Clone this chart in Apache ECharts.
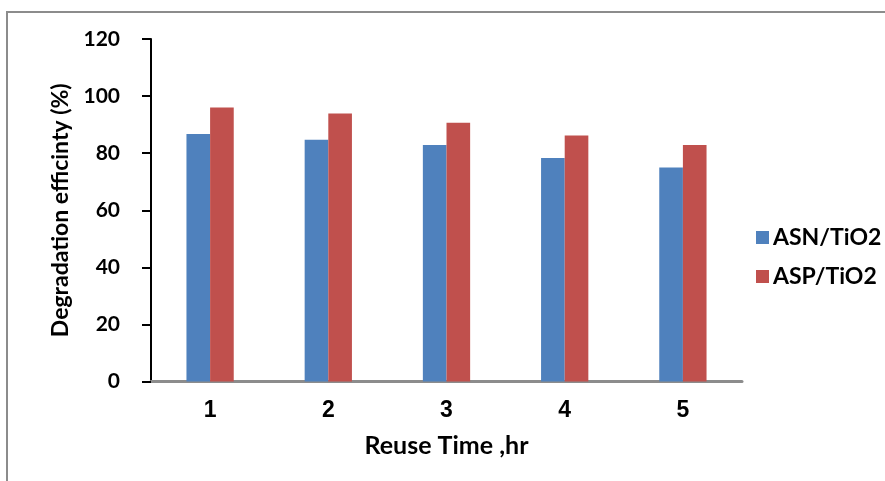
<!DOCTYPE html>
<html>
<head>
<meta charset="utf-8">
<script src="https://cdn.jsdelivr.net/npm/echarts@6/dist/echarts.min.js"></script>
<style>
html,body{margin:0;padding:0;background:#fff;}
#chart{width:885px;height:481px;}
</style>
</head>
<body>
<div id="chart"></div>
<script>
var categories = ['1', '2', '3', '4', '5'];
var seriesNames = ['ASN/TiO2', 'ASP/TiO2'];
var asnValues = [86.7, 84.7, 82.9, 78.3, 75.0];
var aspValues = [96.0, 93.9, 90.7, 86.2, 82.9];
var yTicks = [0, 20, 40, 60, 80, 100, 120];

var chart = echarts.init(document.getElementById('chart'));
var option = {
  animation: false,
  backgroundColor: '#fff',
  graphic: [{
    type: 'rect',
    shape: { x: 7, y: 12, width: 900, height: 500 },
    style: { fill: 'none', stroke: '#8c8c8c', lineWidth: 2 },
    silent: true
  }],
  grid: { left: 151, top: 39, width: 591, height: 342.5 },
  legend: {
    orient: 'vertical',
    left: 751,
    top: 221,
    itemWidth: 13,
    itemHeight: 13,
    itemGap: 16,
    icon: 'rect',
    data: seriesNames,
    textStyle: { fontFamily: 'Lato', fontWeight: 'bold', fontSize: 23, color: '#000', padding: [0, 0, 0, -1] }
  },
  xAxis: {
    type: 'category',
    data: categories,
    name: 'Reuse Time ,hr',
    nameLocation: 'middle',
    nameGap: 52,
    nameTextStyle: { fontFamily: 'Lato', fontWeight: 'bold', fontSize: 25, color: '#000' },
    axisLine: { lineStyle: { color: '#8c8c8c', width: 3 } },
    axisTick: { show: false },
    axisLabel: { margin: 18, fontFamily: 'Liberation Sans', fontWeight: 'bold', fontSize: 23, color: '#000' }
  },
  yAxis: {
    type: 'value',
    min: yTicks[0],
    max: yTicks[yTicks.length - 1],
    interval: 20,
    name: 'Degradation efficinty (%)',
    nameLocation: 'middle',
    nameRotate: 90,
    nameGap: 78,
    nameTextStyle: { fontFamily: 'Lato', fontWeight: 'bold', fontSize: 23, color: '#000' },
    axisLine: { show: true, lineStyle: { color: '#000', width: 2 } },
    axisTick: { show: true, length: 9, lineStyle: { color: '#000', width: 2 } },
    axisLabel: { margin: 31, fontFamily: 'Lato', fontWeight: 'bold', fontSize: 21, color: '#000' },
    splitLine: { show: false }
  },
  series: [{
    name: seriesNames[0],
    type: 'bar',
    data: asnValues,
    barWidth: '20%',
    barGap: '0%',
    itemStyle: { color: '#4F81BD' }
  }, {
    name: seriesNames[1],
    type: 'bar',
    data: aspValues,
    barWidth: '20%',
    barGap: '0%',
    itemStyle: { color: '#C0504D' }
  }]
};
chart.setOption(option);
</script>
</body>
</html>
